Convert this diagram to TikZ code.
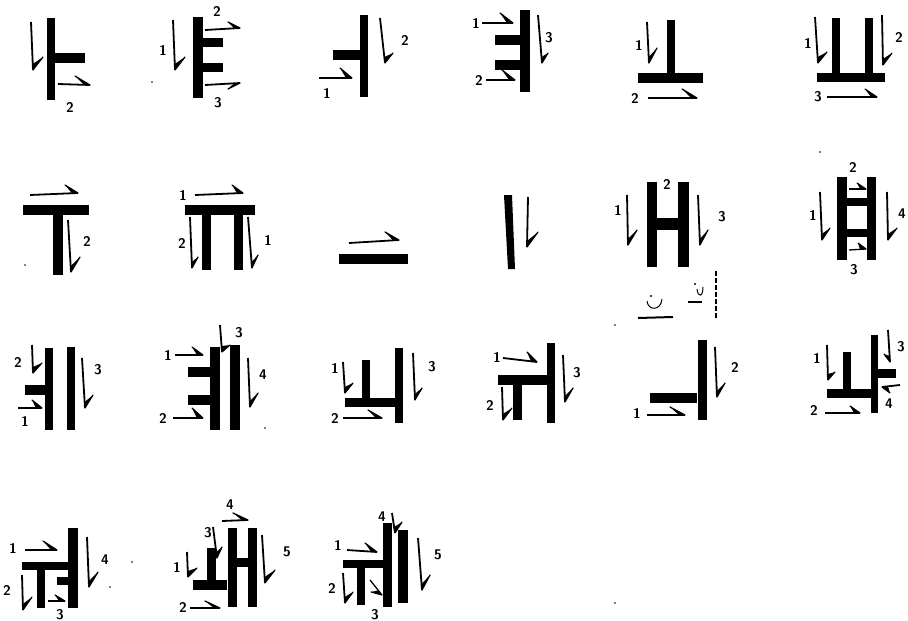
\documentclass[tikz,border=0pt]{standalone}
\usetikzlibrary{calc}
\begin{document}
\tikzset{
 shaft/.style={line width=1.8pt, line cap=butt},
 thinshaft/.style={line width=1.3pt, line cap=butt},
 lbl/.style={font=\sffamily\bfseries\fontsize{14}{14}\selectfont, inner sep=0pt},
 scrib/.style={line width=1pt},
}
% harpoon: tail, tip, barb end
\newcommand\harpo[4][shaft]{%
  \draw[#1] #2 -- #3;
  \fill #3 -- #4 -- ($#3!6pt!#2$) -- cycle;
  \draw[line width=1.2pt, line cap=round] #3 -- #4;}
\begin{tikzpicture}[x=1pt,y=-1pt]
\useasboundingbox (0,0) rectangle (908,621);
% ---------- row 1 ----------
% glyph 1
\fill (47,18) rectangle (55,100);
\fill (53,53) rectangle (85,63);
\harpo{(31,22)}{(33,70)}{(43,57)}
\harpo{(58,84)}{(90,85)}{(75,76)}
\node[lbl] (l1a) at (70,107) {2};
% glyph 2
\fill (193,17) rectangle (203,98);
\fill (200,38) rectangle (223,47);
\fill (200,63) rectangle (223,72);
\harpo{(173,20)}{(175,70)}{(185,57)}
\node[lbl] (l2a) at (163,50) {1};
\harpo{(205,30)}{(240,28)}{(228,22)}
\node[lbl] (l2b) at (217,11) {2};
\harpo{(205,85)}{(240,83)}{(228,89)}
\node[lbl] (l2c) at (218,103) {3};
% glyph 3
\fill (360,15) rectangle (368,97);
\fill (333,50) rectangle (362,60);
\harpo{(319,78)}{(352,78)}{(340,68)}
\node[lbl] (l3a) at (327,93) {1};
\harpo{(380,18)}{(385,63)}{(393,53)}
\node[lbl] (l3b) at (405,40) {2};
% glyph 4
\fill (520,10) rectangle (530,92);
\fill (495,35) rectangle (522,45);
\fill (495,60) rectangle (522,70);
\node[lbl] (l4a) at (476,23) {1};
\harpo{(482,23)}{(513,23)}{(500,13)}
\node[lbl] (l4b) at (479,80) {2};
\harpo{(486,80)}{(515,80)}{(502,70)}
\harpo{(538,15)}{(542,63)}{(548,53)}
\node[lbl] (l4c) at (549,38) {3};
% glyph 5
\fill (667,20) rectangle (675,75);
\fill (638,73) rectangle (703,83);
\harpo{(647,22)}{(649,63)}{(657,48)}
\node[lbl] (l5a) at (639,45) {1};
\harpo{(648,98)}{(697,98)}{(682,89)}
\node[lbl] (l5b) at (635,98) {2};
% glyph 6
\fill (832,18) rectangle (840,75);
\fill (865,18) rectangle (873,75);
\fill (817,73) rectangle (885,82);
\harpo{(815,17)}{(818,63)}{(827,52)}
\node[lbl] (l6a) at (808,43) {1};
\harpo{(882,15)}{(883,65)}{(892,53)}
\node[lbl] (l6b) at (899,37) {2};
\harpo{(827,97)}{(877,97)}{(865,89)}
\node[lbl] (l6c) at (818,97) {3};
% ---------- row 2 ----------
% glyph 7
\fill (23,205) rectangle (89,215);
\fill (53,215) rectangle (63,275);
\harpo{(30,195)}{(78,193)}{(65,185)}
\harpo{(68,220)}{(71,272)}{(80,257)}
\node[lbl] (l7a) at (87,241) {2};
% glyph 8
\fill (185,205) rectangle (255,215);
\fill (202,215) rectangle (211,270);
\fill (234,215) rectangle (243,270);
\node[lbl] (l8a) at (183,195) {1};
\harpo{(195,195)}{(243,193)}{(232,185)}
\harpo{(190,217)}{(192,268)}{(198,257)}
\node[lbl] (l8b) at (182,243) {2};
\harpo{(248,217)}{(252,268)}{(258,255)}
\node[lbl] (l8c) at (268,240) {1};
% glyph 9
\fill (339,254) rectangle (408,264);
\harpo{(349,243)}{(399,240)}{(385,232)}
% glyph 10
\fill (504,195) -- (512,195) -- (515,269) -- (508,269) -- cycle;
\harpo{(528,197)}{(527,247)}{(538,232)}
% glyph 11
\fill (647,182) rectangle (657,267);
\fill (678,182) rectangle (689,267);
\fill (655,218) rectangle (680,230);
\harpo{(627,195)}{(628,245)}{(637,230)}
\node[lbl] (l11a) at (618,210) {1};
\harpo{(698,195)}{(700,245)}{(708,230)}
\node[lbl] (l11c) at (722,217) {3};
\node[lbl] (l11b) at (667,184) {2};
% stray marks under glyph 11
\draw[scrib] (647,301) .. controls (648,311) and (661,311) .. (662,299);
\fill (651,296) circle (1.1);
\draw[line width=2pt] (638,318) -- (673,317);
\draw[scrib] (697,289) .. controls (698,298) and (703,297) .. (703,287);
\fill (695,284) circle (1.1);
\draw[line width=1.3pt] (688,302) -- (702,302);
\draw[line width=1.1pt, dash pattern=on 5pt off 2pt] (716,271) -- (716,318);
% glyph 12
\fill (837,177) rectangle (847,260);
\fill (867,177) rectangle (876,260);
\fill (845,198) rectangle (869,206);
\fill (845,229) rectangle (869,237);
\harpo{(820,192)}{(822,240)}{(830,228)}
\node[lbl] (l12a) at (813,215) {1};
\harpo{(887,192)}{(888,240)}{(897,228)}
\node[lbl] (l12d) at (902,214) {4};
\harpo[thinshaft]{(849,189)}{(866,189)}{(857,183)}
\node[lbl] (l12b) at (853,167) {2};
\harpo[thinshaft]{(849,250)}{(866,249)}{(858,243)}
\node[lbl] (l12c) at (854,270) {3};
% ---------- row 3 ----------
% glyph 13
\fill (45,348) rectangle (53,430);
\fill (67,347) rectangle (75,430);
\fill (25,385) rectangle (47,395);
\harpo{(32,345)}{(33,373)}{(42,363)}
\node[lbl] (l13b) at (18,362) {2};
\harpo{(18,408)}{(42,408)}{(32,400)}
\node[lbl] (l13a) at (25,421) {1};
\harpo{(82,358)}{(85,408)}{(93,395)}
\node[lbl] (l13c) at (98,370) {3};
% glyph 14
\fill (210,347) rectangle (220,430);
\fill (230,345) rectangle (240,430);
\fill (188,367) rectangle (212,377);
\fill (188,395) rectangle (212,405);
\node[lbl] (l14a) at (168,355) {1};
\harpo{(175,355)}{(203,355)}{(192,347)}
\node[lbl] (l14b) at (163,418) {2};
\harpo{(173,418)}{(203,418)}{(192,408)}
\harpo{(220,325)}{(222,352)}{(230,345)}
\node[lbl] (l14c) at (239,333) {3};
\harpo{(248,358)}{(250,407)}{(258,393)}
\node[lbl] (l14d) at (263,375) {4};
% glyph 15
\fill (362,360) rectangle (370,402);
\fill (345,398) rectangle (397,407);
\fill (395,348) rectangle (403,423);
\harpo{(343,362)}{(345,393)}{(353,383)}
\node[lbl] (l15a) at (335,368) {1};
\harpo{(343,418)}{(382,418)}{(368,410)}
\node[lbl] (l15b) at (335,418) {2};
\harpo{(413,353)}{(415,400)}{(422,388)}
\node[lbl] (l15c) at (432,367) {3};
% glyph 16
\fill (547,343) rectangle (555,423);
\fill (498,375) rectangle (548,385);
\fill (513,385) rectangle (522,420);
\node[lbl] (l16a) at (497,357) {1};
\harpo{(503,358)}{(537,362)}{(527,352)}
\harpo{(502,387)}{(503,420)}{(512,408)}
\node[lbl] (l16b) at (490,405) {2};
\harpo{(563,355)}{(565,402)}{(573,388)}
\node[lbl] (l16c) at (577,373) {3};
% glyph 17
\fill (698,340) rectangle (707,420);
\fill (650,393) rectangle (697,403);
\harpo{(647,415)}{(685,415)}{(670,407)}
\node[lbl] (l17a) at (637,413) {1};
\harpo{(715,347)}{(717,397)}{(725,383)}
\node[lbl] (l17b) at (735,367) {2};
% glyph 18
\fill (871,335) rectangle (878,413);
\fill (877,369) rectangle (896,378);
\fill (843,352) rectangle (851,392);
\fill (827,389) rectangle (872,398);
\harpo{(827,345)}{(828,380)}{(835,372)}
\node[lbl] (l18a) at (817,358) {1};
\harpo{(825,413)}{(860,413)}{(850,406)}
\node[lbl] (l18b) at (814,410) {2};
\harpo{(888,330)}{(890,362)}{(884,354)}
\node[lbl] (l18c) at (901,347) {3};
\harpo{(900,385)}{(882,387)}{(890,393)}
\node[lbl] (l18d) at (889,404) {4};
% ---------- row 4 ----------
% glyph 19
\fill (68,528) rectangle (78,608);
\fill (22,562) rectangle (68,570);
\fill (37,570) rectangle (45,608);
\fill (57,577) rectangle (70,585);
\node[lbl] (l19a) at (13,548) {1};
\harpo{(25,550)}{(57,550)}{(43,541)}
\harpo{(22,575)}{(23,610)}{(32,597)}
\node[lbl] (l19b) at (7,590) {2};
\harpo[thinshaft]{(48,601)}{(65,601)}{(55,595)}
\node[lbl] (l19c) at (60,615) {3};
\harpo{(87,537)}{(89,587)}{(98,572)}
\node[lbl] (l19d) at (105,560) {4};
% glyph 20
\fill (228,528) rectangle (237,607);
\fill (248,528) rectangle (257,607);
\fill (235,558) rectangle (250,567);
\fill (207,548) rectangle (216,582);
\fill (193,580) rectangle (227,590);
\harpo{(187,552)}{(188,577)}{(197,568)}
\node[lbl] (l20a) at (177,567) {1};
\harpo{(190,608)}{(220,608)}{(205,601)}
\node[lbl] (l20b) at (183,607) {2};
\harpo{(213,527)}{(217,558)}{(222,547)}
\node[lbl] (l20c) at (208,533) {3};
\harpo{(222,521)}{(248,520)}{(233,513)}
\node[lbl] (l20d) at (230,505) {4};
\harpo{(262,535)}{(265,583)}{(275,570)}
\node[lbl] (l20e) at (287,552) {5};
% glyph 21
\fill (383,523) rectangle (392,607);
\fill (398,530) rectangle (408,603);
\fill (343,560) rectangle (383,568);
\fill (357,568) rectangle (365,605);
\harpo[thinshaft]{(370,580)}{(382,595)}{(371,592)}
\node[lbl] (l21c) at (375,615) {3};
\harpo{(347,550)}{(377,552)}{(365,543)}
\node[lbl] (l21a) at (338,545) {1};
\harpo{(343,573)}{(345,603)}{(353,592)}
\node[lbl] (l21b) at (332,588) {2};
\harpo{(392,513)}{(395,533)}{(402,522)}
\node[lbl] (l21d) at (382,517) {4};
\harpo{(418,538)}{(422,590)}{(430,575)}
\node[lbl] (l21e) at (438,555) {5};
% stray specks
\foreach \p in {(152,82),(25,265),(132,562),(110,587),(265,428),(615,325),(820,152),(615,603)}
  \fill \p circle (0.8);
\end{tikzpicture}
\end{document}
